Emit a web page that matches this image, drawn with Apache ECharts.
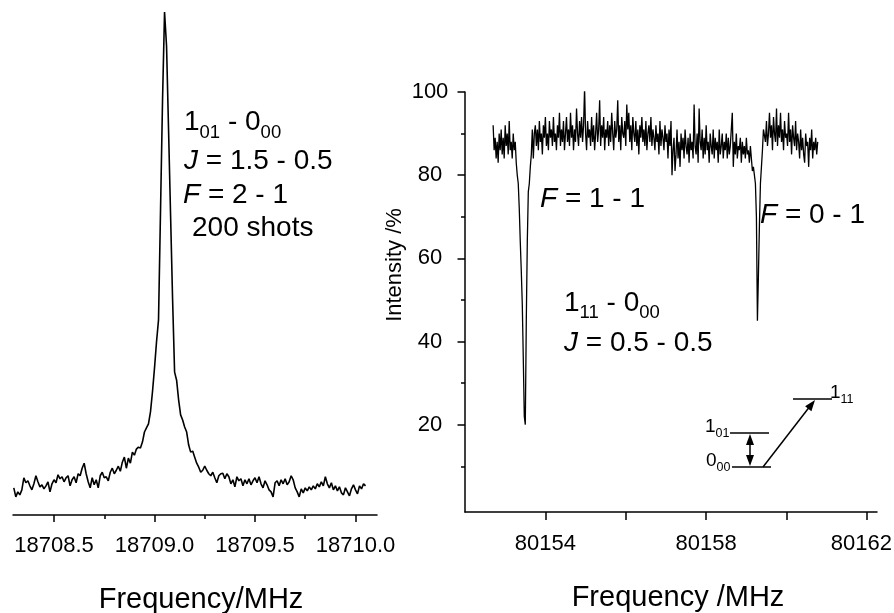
<!DOCTYPE html>
<html>
<head>
<meta charset="utf-8">
<script src="https://cdn.jsdelivr.net/npm/echarts@6/dist/echarts.min.js"></script>
<style>
html,body{margin:0;padding:0;background:#fff;}
#chart{width:894px;height:613px;}
</style>
</head>
<body>
<div id="chart"></div>
<script>
// ---------- DATA ----------
// Left panel: 1_01 - 0_00 line (arbitrary intensity units)
const leftFreqStart = 18708.30;
const leftFreqStep = 0.01;
const leftIntensity = [
  5.4, 3.6, 4.6, 4.0, 5.0, 7.4, 6.4, 6.8, 5.8, 5.0,
  6.2, 7.8, 6.6, 5.6, 6.0, 5.2, 5.8, 6.6, 4.6, 6.2,
  7.0, 6.4, 8.0, 7.2, 7.6, 6.6, 7.4, 7.8, 5.8, 7.0,
  7.6, 6.4, 8.2, 7.8, 9.3, 10.3, 8.2, 6.6, 5.4, 7.4,
  6.0, 7.0, 5.4, 7.8, 8.5, 7.4, 7.6, 6.8, 8.5, 9.3,
  8.2, 8.9, 9.7, 8.7, 10.5, 11.5, 9.3, 11.3, 10.3, 12.5,
  11.9, 13.1, 13.5, 13.3, 14.5, 16.5, 17.3, 18.1, 20.5, 24.5,
  29.2, 34.4, 38.8, 60.6, 82.5, 100, 93.2, 76.5, 59.6, 42.9,
  28.4, 26.8, 22.9, 19.9, 18.9, 17.5, 16.5, 13.9, 12.5, 12.7,
  11.5, 10.3, 9.5, 8.5, 8.9, 9.7, 8.9, 8.2, 7.8, 8.5,
  7.4, 6.4, 7.8, 8.2, 8.3, 7.2, 8.2, 7.6, 6.2, 7.0,
  5.6, 7.6, 6.8, 7.2, 5.8, 7.0, 6.2, 7.2, 6.0, 6.8,
  7.4, 6.4, 7.6, 6.2, 5.4, 6.8, 6.0, 5.0, 4.6, 3.6,
  6.4, 6.8, 5.8, 7.0, 6.2, 7.2, 6.0, 6.6, 7.8, 7.0,
  5.4, 4.6, 3.6, 5.2, 4.4, 5.4, 4.8, 5.6, 5.0, 5.8,
  5.2, 6.2, 5.6, 6.6, 5.8, 7.6, 6.2, 5.4, 6.4, 5.0,
  5.8, 4.8, 5.6, 4.4, 4.0, 5.4, 4.6, 3.8, 5.2, 6.0,
  5.0, 4.2, 5.8, 5.2, 6.2, 5.8
];
const leftMajorTicks = [18708.5, 18709.0, 18709.5, 18710.0];
const leftMinorTicks = [18708.75, 18709.25, 18709.75];

// Right panel: 1_11 - 0_00 line, intensity in %
const rightFreqStart = 80152.70;
const rightFreqStep = 0.025;
const rightIntensity = [
  92, 86, 89, 84, 88, 83, 90, 86, 91, 85,
  89, 84, 92, 87, 90, 85, 93, 86, 88, 84,
  90, 86, 88, 83, 80, 78, 72, 64, 57, 49,
  36, 22, 20, 45, 64, 76, 78, 82, 85, 91,
  84, 90, 92, 87, 91, 86, 93, 88, 90, 85,
  92, 89, 94, 87, 90, 86, 93, 89, 91, 87,
  94, 88, 90, 86, 92, 89, 95, 87, 91, 88,
  93, 86, 90, 94, 88, 91, 87, 95, 89, 92,
  86, 91, 88, 96, 90, 87, 93, 89, 94, 88,
  92, 101, 90, 86, 93, 89, 91, 87, 94, 88,
  92, 86, 90, 95, 88, 91, 98, 87, 92, 89,
  94, 86, 91, 89, 93, 87, 92, 88, 95, 90,
  86, 93, 89, 91, 98, 88, 92, 86, 94, 90,
  89, 93, 87, 97, 91, 95, 88, 92, 86, 94,
  90, 88, 93, 87, 91, 85, 92, 89, 94, 88,
  91, 87, 93, 86, 90, 92, 88, 94, 87, 91,
  89, 86, 92, 88, 90, 85, 93, 87, 91, 89,
  86, 92, 88, 90, 84, 91, 87, 93, 80, 86,
  89, 81, 85, 91, 84, 88, 82, 90, 86, 89,
  84, 91, 87, 85, 89, 83, 90, 86, 88, 84,
  97, 87, 85, 90, 83, 96, 88, 86, 91, 84,
  89, 85, 92, 86, 88, 83, 90, 87, 85, 91,
  84, 89, 86, 88, 83, 91, 85, 87, 90, 84,
  88, 86, 90, 84, 89, 85, 87, 91, 95, 82,
  88, 85, 90, 84, 87, 86, 89, 83, 88, 85,
  87, 84, 89, 85, 86, 83, 87, 84, 81, 82,
  80, 78, 70, 45, 56, 68, 78, 82, 86, 91,
  91, 88, 93, 87, 90, 95, 89, 92, 86, 94,
  90, 88, 96, 87, 92, 89, 95, 88, 91, 86,
  93, 89, 90, 87, 95, 88, 91, 85, 92, 89,
  87, 93, 86, 90, 88, 84, 91, 86, 89, 85,
  83, 90, 87, 88, 82, 89, 86, 91, 84, 88,
  86, 89, 85, 88
];
const rightXTickLabels = [80154, 80158, 80162];
const rightXTicks = [80154, 80156, 80158, 80160, 80162];
const rightYTickLabels = [20, 40, 60, 80, 100];
const rightYMinorTicks = [10, 30, 50, 70, 90];

// ---------- CHART ----------
const FONT = '"Liberation Sans", Arial, Helvetica, sans-serif';
const leftData = leftIntensity.map((v, i) => [+(leftFreqStart + i * leftFreqStep).toFixed(4), v]);
const rightData = rightIntensity.map((v, i) => [+(rightFreqStart + i * rightFreqStep).toFixed(4), v]);

const axisLineStyle = { color: '#000', width: 1.5 };

function richBig(size, subSize, subPad) {
  return {
    n: { fontSize: size, lineHeight: size, verticalAlign: 'top', fill: '#000', fontFamily: FONT },
    i: { fontSize: size, lineHeight: size, verticalAlign: 'top', fill: '#000', fontFamily: FONT, fontStyle: 'italic' },
    s: { fontSize: subSize, lineHeight: subSize, verticalAlign: 'top', fill: '#000', fontFamily: FONT, padding: [subPad, 0, 0, 0] }
  };
}
function label(x, y, text, rich) {
  return { type: 'text', x: x, y: y, silent: true,
    style: { text: text, rich: rich, fill: '#000', fontFamily: FONT, align: 'left', verticalAlign: 'top' } };
}
const R28 = richBig(28, 18.5, 14.75);
const R19 = richBig(19, 12.5, 9.75);

const lw = { stroke: '#000', lineWidth: 1.5 };
function arrowHead(tx, ty, fx, fy, len, half) {
  const dx = tx - fx, dy = ty - fy, L = Math.hypot(dx, dy);
  const ux = dx / L, uy = dy / L, nx = -uy, ny = ux;
  const bx = tx - ux * len, by = ty - uy * len;
  return { type: 'polygon', silent: true,
    shape: { points: [[tx, ty], [bx + nx * half, by + ny * half], [bx - nx * half, by - ny * half]] },
    style: { fill: '#000' } };
}

const option = {
  animation: false,
  backgroundColor: '#fff',
  textStyle: { fontFamily: FONT },
  grid: [
    { left: 13, right: 517, top: 12, bottom: 98, containLabel: false, outerBoundsMode: 'none' },
    { left: 465, right: 17, top: 92, bottom: 101, containLabel: false, outerBoundsMode: 'none' }
  ],
  xAxis: [
    { gridIndex: 0, type: 'value', min: 18708.296, max: 18710.107, position: 'bottom',
      axisLine: { show: true, onZero: false, lineStyle: axisLineStyle },
      axisTick: { show: true, inside: false, customValues: leftMajorTicks, length: 7, lineStyle: axisLineStyle },
      axisLabel: { show: true, customValues: leftMajorTicks, formatter: v => Number(v).toFixed(1),
        margin: 20, fontSize: 22, color: '#000', fontFamily: FONT },
      splitLine: { show: false } },
    { gridIndex: 0, type: 'value', min: 18708.296, max: 18710.107, position: 'bottom',
      axisLine: { show: false, onZero: false },
      axisTick: { show: true, inside: false, customValues: leftMinorTicks, length: 4, lineStyle: axisLineStyle },
      axisLabel: { show: false }, splitLine: { show: false } },
    { gridIndex: 1, type: 'value', min: 80152, max: 80162.25, position: 'bottom',
      axisLine: { show: true, onZero: false, lineStyle: axisLineStyle },
      axisTick: { show: true, inside: false, customValues: rightXTicks, length: 8, lineStyle: axisLineStyle },
      axisLabel: { show: true, customValues: rightXTickLabels,
        formatter: v => (Number(v) === 80162 ? '{r|' + v + '}' : String(v)),
        rich: { r: { fontSize: 22, color: '#000', fontFamily: FONT, padding: [0, 11, 0, 0] } },
        margin: 21, fontSize: 22, color: '#000', fontFamily: FONT },
      splitLine: { show: false } }
  ],
  yAxis: [
    { gridIndex: 0, type: 'value', min: 0, max: 100, show: false },
    { gridIndex: 1, type: 'value', min: -1, max: 100, position: 'left',
      axisLine: { show: true, onZero: false, lineStyle: axisLineStyle },
      axisTick: { show: true, inside: false, customValues: rightYTickLabels, length: 7.5, lineStyle: axisLineStyle },
      axisLabel: { show: true, customValues: rightYTickLabels, formatter: v => String(v),
        margin: 35, align: 'center', fontSize: 22, color: '#000', fontFamily: FONT },
      splitLine: { show: false } },
    { gridIndex: 1, type: 'value', min: -1, max: 100, position: 'left',
      axisLine: { show: false, onZero: false },
      axisTick: { show: true, inside: false, customValues: rightYMinorTicks, length: 4, lineStyle: axisLineStyle },
      axisLabel: { show: false }, splitLine: { show: false } }
  ],
  series: [
    { type: 'line', xAxisIndex: 0, yAxisIndex: 0, data: leftData, showSymbol: false, symbol: 'none',
      lineStyle: { color: '#000', width: 1.6 }, silent: true },
    { type: 'line', xAxisIndex: 2, yAxisIndex: 1, data: rightData, showSymbol: false, symbol: 'none',
      lineStyle: { color: '#000', width: 1.3 }, silent: true }
  ],
  graphic: [
    // left annotation
    label(184, 108.5, '{n|1}{s|01}{n| - 0}{s|00}', R28),
    label(184, 147.5, '{i|J}{n| = 1.5 - 0.5}', R28),
    label(183, 181, '{i|F}{n| = 2 - 1}', R28),
    label(192, 214, '{n|200 shots}', R28),
    // right annotation
    label(540, 185, '{i|F}{n| = 1 - 1}', R28),
    label(760, 201, '{i|F}{n| = 0 - 1}', R28),
    label(564, 289, '{n|1}{s|11}{n| - 0}{s|00}', R28),
    label(564, 329, '{i|J}{n| = 0.5 - 0.5}', R28),
    // energy level diagram
    label(705, 417, '{n|1}{s|01}', R19),
    label(706, 451.5, '{n|0}{s|00}', R19),
    label(830, 383.5, '{n|1}{s|11}', R19),
    { type: 'line', silent: true, shape: { x1: 730, y1: 433, x2: 769, y2: 433 }, style: lw },
    { type: 'line', silent: true, shape: { x1: 732, y1: 467, x2: 771, y2: 467 }, style: lw },
    { type: 'line', silent: true, shape: { x1: 793, y1: 399, x2: 832, y2: 399 }, style: lw },
    { type: 'line', silent: true, shape: { x1: 750, y1: 441, x2: 750, y2: 459 }, style: lw },
    arrowHead(750, 434, 750, 466, 11, 4),
    arrowHead(750, 466, 750, 434, 11, 4),
    { type: 'line', silent: true, shape: { x1: 763, y1: 467, x2: 809, y2: 407.5 }, style: lw },
    arrowHead(815, 400, 763, 467, 11, 4),
    // axis titles
    { type: 'text', x: 201, y: 600, silent: true,
      style: { text: 'Frequency/MHz', fontSize: 29, fontFamily: FONT, fill: '#000', align: 'center', verticalAlign: 'middle' } },
    { type: 'text', x: 678, y: 597.5, silent: true,
      style: { text: 'Frequency /MHz', fontSize: 29, fontFamily: FONT, fill: '#000', align: 'center', verticalAlign: 'middle' } },
    { type: 'text', x: 395, y: 265, rotation: Math.PI / 2, silent: true,
      style: { text: 'Intensity /%', fontSize: 22, fontFamily: FONT, fill: '#000', align: 'center', verticalAlign: 'middle' } }
  ]
};

const chart = echarts.init(document.getElementById('chart'), null, { renderer: 'canvas' });
chart.setOption(option);
</script>
</body>
</html>
